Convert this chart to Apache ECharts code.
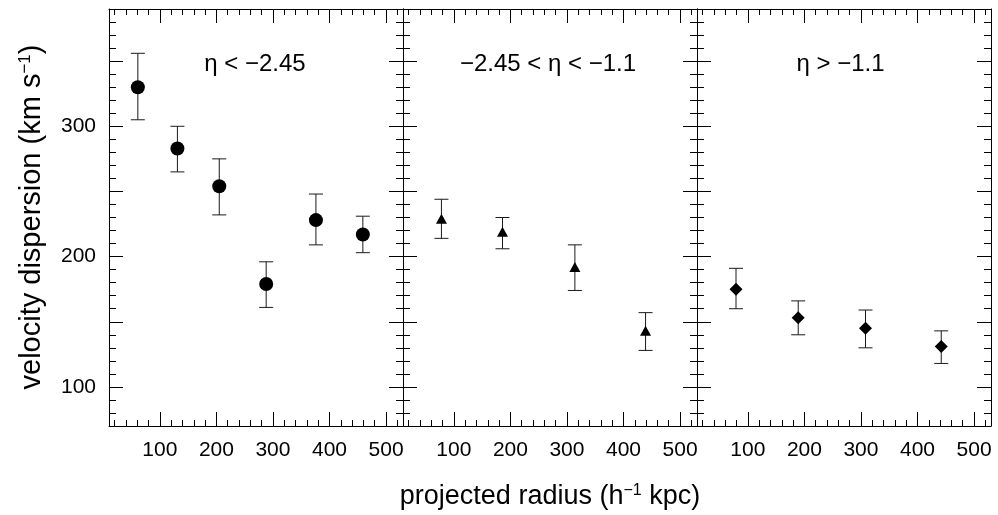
<!DOCTYPE html>
<html>
<head>
<meta charset="utf-8">
<script src="https://cdn.jsdelivr.net/npm/echarts@6/dist/echarts.min.js"></script>
<style>html,body{margin:0;padding:0;background:#fff}#c{width:998px;height:515px}</style>
</head>
<body>
<div id="c"></div>
<script>
// ---- data ----
const panelLabels = ['η < −2.45', '−2.45 < η < −1.1', 'η > −1.1'];
const xTickLabels = [100, 200, 300, 400, 500];
const yTickLabels = [100, 200, 300];

const r1 = [61, 131, 205, 288, 376, 459];
const v1 = [330, 283, 254, 179, 228, 217];
const hi1 = [356, 300, 275, 196, 248, 231];
const lo1 = [305, 265, 232, 161, 209, 203];

const r2 = [78, 186, 314, 439];
const v2 = [229, 219, 192, 143];
const hi2 = [244, 230, 209, 157];
const lo2 = [214, 206, 174, 128];

const r3 = [79, 189, 308, 442];
const v3 = [175, 153, 145, 131];
const hi3 = [191, 166, 159, 143];
const lo3 = [160, 140, 130, 118];

// ---- layout ----
const FONT = 'Liberation Sans, Arial, Helvetica, sans-serif';
const X_MIN = 10, X_MAX = 530, Y_MIN = 70, Y_MAX = 390;
const gridLeft0 = 109, gridW = 294, gridTop = 9, gridH = 417;

const panels = [
  {r: r1, v: v1, hi: hi1, lo: lo1, symbol: 'circle', size: 14},
  {r: r2, v: v2, hi: hi2, lo: lo2, symbol: 'triangle', size: [11, 10]},
  {r: r3, v: v3, hi: hi3, lo: lo3, symbol: 'diamond', size: [13, 13]}
];

const grids = [], xAxes = [], yAxes = [], series = [], graphics = [];
const lineStyle = {color: '#000', width: 1};
const isLabel = (list, v) => Math.abs(v - Math.round(v)) < 1e-6 && list.indexOf(Math.round(v)) >= 0;

panels.forEach((p, g) => {
  grids.push({left: gridLeft0 + gridW * g, top: gridTop, width: gridW, height: gridH,
              containLabel: false, outerBoundsMode: 'none'});
  const mkX = (pos, major, labels) => ({
    type: 'value', gridIndex: g, position: pos, min: X_MIN, max: X_MAX,
    splitNumber: major ? 5 : 26,
    axisLine: {show: major, onZero: false, lineStyle},
    axisTick: {show: true, inside: true, length: major ? 14 : 6, lineStyle},
    axisLabel: {show: labels, margin: 14, color: '#000', fontSize: 21, fontFamily: FONT,
                formatter: v => isLabel(xTickLabels, v) ? String(Math.round(v)) : ''},
    splitLine: {show: false}, minorTick: {show: false}
  });
  const mkY = (pos, major, labels) => {
    const a = {
      type: 'value', gridIndex: g, position: pos, min: Y_MIN, max: Y_MAX,
      axisLine: {show: major, onZero: false, lineStyle},
      axisTick: {show: true, inside: true, length: major ? 14 : 7, lineStyle},
      axisLabel: {show: labels, margin: 13, color: '#000', fontSize: 21, fontFamily: FONT,
                  formatter: v => isLabel(yTickLabels, v) ? String(Math.round(v)) : ''},
      splitLine: {show: false}
    };
    if (major) a.splitNumber = 6; else a.interval = 10;
    return a;
  };
  xAxes.push(mkX('bottom', true, true), mkX('bottom', false, false), mkX('top', true, false), mkX('top', false, false));
  yAxes.push(mkY('left', true, g === 0), mkY('left', false, false), mkY('right', true, false), mkY('right', false, false));

  const ax = 4 * g;
  series.push({
    type: 'custom', xAxisIndex: ax, yAxisIndex: ax, silent: true,
    data: p.r.map((x, i) => [x, p.lo[i], p.hi[i]]),
    encode: {x: 0, y: [1, 2]},
    renderItem: (params, api) => {
      const x = api.value(0);
      const a = api.coord([x, api.value(1)]);
      const b = api.coord([x, api.value(2)]);
      const hw = 7;
      const st = {stroke: '#1a1a1a', lineWidth: 1};
      return {type: 'group', children: [
        {type: 'line', shape: {x1: a[0], y1: a[1], x2: b[0], y2: b[1]}, style: st},
        {type: 'line', shape: {x1: a[0] - hw, y1: a[1], x2: a[0] + hw, y2: a[1]}, style: st},
        {type: 'line', shape: {x1: b[0] - hw, y1: b[1], x2: b[0] + hw, y2: b[1]}, style: st}
      ]};
    },
    z: 2
  });
  series.push({
    type: 'scatter', xAxisIndex: ax, yAxisIndex: ax, silent: true,
    symbol: p.symbol, symbolSize: p.size,
    itemStyle: {color: '#000', opacity: 1},
    data: p.r.map((x, i) => [x, p.v[i]]),
    z: 3
  });

  graphics.push({
    type: 'text', x: gridLeft0 + gridW * g + [146, 145, 143.5][g], y: 64,
    style: {text: panelLabels[g], font: '24px ' + FONT, fill: '#000', align: 'center', verticalAlign: 'middle'}
  });
});

// axis titles
graphics.push({
  type: 'text', x: 550, y: 497,
  style: {
    text: '{a|projected radius (h}{s|−1}{a| kpc)}', align: 'center', verticalAlign: 'middle',
    rich: {a: {fontSize: 27, fontFamily: FONT, fill: '#000', lineHeight: 29},
           s: {fontSize: 16, fontFamily: FONT, fill: '#000', verticalAlign: 'top', lineHeight: 16}}
  }
});
graphics.push({
  type: 'text', x: 32, y: 217, rotation: Math.PI / 2,
  style: {
    text: '{a|velocity dispersion (km s}{s|−1}{a|)}', align: 'center', verticalAlign: 'middle',
    rich: {a: {fontSize: 29, fontFamily: FONT, fill: '#000', lineHeight: 31},
           s: {fontSize: 17, fontFamily: FONT, fill: '#000', verticalAlign: 'top', lineHeight: 17}}
  }
});

const chart = echarts.init(document.getElementById('c'), null, {renderer: 'canvas'});
chart.setOption({
  animation: false,
  backgroundColor: '#fff',
  grid: grids, xAxis: xAxes, yAxis: yAxes, series: series,
  graphic: graphics
});
</script>
</body>
</html>
